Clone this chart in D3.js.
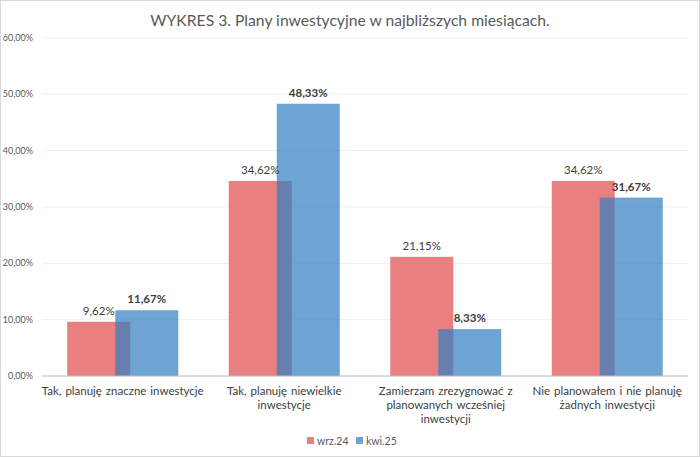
<!DOCTYPE html>
<html>
<head>
<meta charset="utf-8">
<script src="https://cdn.jsdelivr.net/npm/d3@7"></script>
<style>
  body { margin: 0; background: #fff; }
  #chart text { font-family: Lato, "Open Sans", sans-serif; }
</style>
</head>
<body>
<div id="chart"></div>
<script>
const categories = [
  "Tak, planuję znaczne inwestycje",
  "Tak, planuję niewielkie\ninwestycje",
  "Zamierzam zrezygnować z\nplanowanych wcześniej\ninwestycji",
  "Nie planowałem i nie planuję\nżadnych inwestycji"
];
const seriesNames = ["wrz.24", "kwi.25"];
const wrz24 = [9.62, 34.62, 21.15, 34.62];
const kwi25 = [11.67, 48.33, 8.33, 31.67];
const yTicks = [0, 10, 20, 30, 40, 50, 60];

const width = 700, height = 457;
const svg = d3.select("#chart").append("svg")
  .attr("width", width).attr("height", height);

// chart border
svg.append("rect")
  .attr("x", 0.5).attr("y", 0.5)
  .attr("width", width - 1).attr("height", height - 1)
  .attr("fill", "#fff").attr("stroke", "#d9d9d9");

svg.append("text")
  .attr("x", 350).attr("y", 26)
  .attr("text-anchor", "middle")
  .attr("font-size", 15.7)
  .attr("fill", "#595959")
  .text("WYKRES 3. Plany inwestycyjne w najbliższych miesiącach.");

const x = d3.scaleBand().domain(d3.range(categories.length)).range([42, 688]);
const y = d3.scaleLinear().domain([0, 60]).range([376, 38]);

const fmt = v => d3.format(".2f")(v).replace(".", ",") + "%";

// gridlines
svg.append("g").selectAll("line").data(yTicks.slice(1))
  .join("line")
  .attr("x1", 42).attr("x2", 688)
  .attr("y1", d => y(d)).attr("y2", d => y(d))
  .attr("stroke", "#efefef");

// y labels
svg.append("g").selectAll("text").data(yTicks)
  .join("text")
  .attr("x", 33).attr("y", d => y(d) + 3)
  .attr("text-anchor", "end")
  .attr("font-size", 9)
  .attr("fill", "#595959")
  .text(d => fmt(d));

const barW = 63;
const shift = 24;

const series = [
  { name: seriesNames[0], values: wrz24, color: "#e88080", opacity: 1, dx: -shift, bold: false },
  { name: seriesNames[1], values: kwi25, color: "rgb(48,126,194)", opacity: 0.7, dx: shift, bold: true }
];

series.forEach(s => {
  const g = svg.append("g");
  g.selectAll("rect").data(s.values)
    .join("rect")
    .attr("x", (d, i) => x(i) + x.bandwidth() / 2 + s.dx - barW / 2)
    .attr("y", d => y(d))
    .attr("width", barW)
    .attr("height", d => y(0) - y(d))
    .attr("fill", s.color)
    .attr("fill-opacity", s.opacity);
});

// value labels
series.forEach(s => {
  svg.append("g").selectAll("text").data(s.values)
    .join("text")
    .attr("x", (d, i) => x(i) + x.bandwidth() / 2 + s.dx)
    .attr("y", d => y(d) - 7)
    .attr("text-anchor", "middle")
    .attr("font-size", 11.5)
    .attr("font-weight", s.bold ? "bold" : "normal")
    .attr("fill", "#404040")
    .text(d => fmt(d));
});

// x axis line
svg.append("line")
  .attr("x1", 42).attr("x2", 688)
  .attr("y1", y(0)).attr("y2", y(0))
  .attr("stroke", "#bfbfbf");

// category labels
const catG = svg.append("g").selectAll("text").data(categories)
  .join("text")
  .attr("text-anchor", "middle")
  .attr("font-size", 11.5)
  .attr("fill", "#404040");
catG.each(function(d, i) {
  d3.select(this).selectAll("tspan").data(d.split("\n"))
    .join("tspan")
    .attr("x", x(i) + x.bandwidth() / 2)
    .attr("y", (t, j) => 395 + j * 14)
    .attr("word-spacing", 1)
    .text(t => t);
});

// legend
const legend = svg.append("g");
const legendX = [307, 356];
series.forEach((s, i) => {
  legend.append("rect")
    .attr("x", legendX[i]).attr("y", 437)
    .attr("width", 7).attr("height", 7)
    .attr("fill", s.color).attr("fill-opacity", s.opacity);
  legend.append("text")
    .attr("x", legendX[i] + 10).attr("y", 445)
    .attr("font-size", 10.5)
    .attr("fill", "#595959")
    .text(s.name);
});
</script>
</body>
</html>
